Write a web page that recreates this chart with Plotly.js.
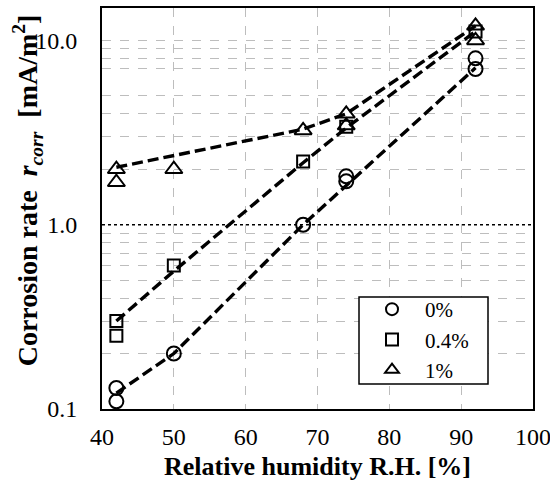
<!DOCTYPE html>
<html>
<head>
<meta charset="utf-8">
<script src="https://cdn.plot.ly/plotly-3.0.1.min.js"></script>
<style>html,body{margin:0;padding:0;background:#fff;}#chart{width:550px;height:482px;}</style>
</head>
<body>
<div id="chart"></div>
<script>
// Measured corrosion rates (markers)
const seriesNames = ['0%', '0.4%', '1%'];
const rh0 = [42, 42, 50, 68, 74, 74, 92, 92];
const rate0 = [0.11, 0.13, 0.2, 1.0, 1.72, 1.83, 7.0, 8.0];
const rh04 = [42, 42, 50, 68, 74, 92];
const rate04 = [0.25, 0.3, 0.6, 2.2, 3.4, 11.2];
const rh1 = [42, 42, 50, 68, 74, 74, 92, 92];
const rate1 = [2.0, 1.7, 2.0, 3.25, 4.0, 3.45, 12.0, 10.0];

// Trend lines
const trendRh0 = [42, 50, 68, 92];
const trend0 = [0.122, 0.2, 1.0, 7.1];
const trendRh04 = [42, 50, 68, 74, 92];
const trend04 = [0.3, 0.56, 2.17, 3.35, 11.2];
const trendRh1 = [42, 68, 74, 92];
const trend1 = [2.05, 3.3, 4.0, 12.0];

// Axis ticks / reference line
const xTickVals = [40, 50, 60, 70, 80, 90, 100];
const yTickVals = [0.1, 1, 10];
const yTickText = ['0.1', '1.0', '10.0'];
const yMinorGrid = [0.2, 0.3, 0.4, 0.5, 0.6, 0.7, 0.8, 0.9, 2, 3, 4, 5, 7, 8, 9, 10];
const refLineY = [1];
const yTitle = '<b>Corrosion rate&nbsp;&nbsp;<i>r<sub>corr</sub></i>&nbsp;&nbsp;[mA/m<sup>2</sup>]</b>';

const serif = '"Liberation Serif", "Times New Roman", Times, serif';
const symbols = ['circle-open', 'square-open', 'triangle-up-open'];
const sizes = [14, 12, 15];

const markerSets = [[rh0, rate0], [rh04, rate04], [rh1, rate1]];
const trendSets = [[trendRh0, trend0], [trendRh04, trend04], [trendRh1, trend1]];

const traces = [];
trendSets.forEach(([x, y]) => {
  traces.push({
    x: x, y: y, type: 'scatter', mode: 'lines', showlegend: false, hoverinfo: 'skip',
    line: {color: '#000', width: 3.4, dash: '11px,5px'}
  });
});
markerSets.forEach(([x, y], i) => {
  traces.push({
    x: x, y: y, type: 'scatter', mode: 'markers', name: seriesNames[i],
    marker: {symbol: symbols[i], size: sizes[i], color: '#000', line: {color: '#000', width: 2}}
  });
});

const layout = {
  width: 550, height: 482,
  margin: {l: 102, r: 17, t: 8, b: 73},
  paper_bgcolor: '#fff', plot_bgcolor: '#fff',
  font: {family: serif, color: '#000', size: 24},
  showlegend: true,
  legend: {
    x: 0.5963, y: 0.2993, xanchor: 'left', yanchor: 'top',
    borderwidth: 0, bgcolor: 'rgba(0,0,0,0)',
    font: {family: serif, size: 21, color: '#000'},
    itemsizing: 'constant', tracegroupgap: 0, itemwidth: 56
  },
  xaxis: {
    range: [40, 100], tickmode: 'array', tickvals: xTickVals,
    showgrid: true, gridcolor: '#bdbdbd', griddash: 'dash', gridwidth: 1,
    showline: true, linecolor: '#000', linewidth: 2, mirror: true,
    ticks: '', ticklabelstandoff: 5, ticklabeloverflow: 'allow', zeroline: false,
    tickfont: {family: serif, size: 24, color: '#000'},
    title: {text: '<b>Relative humidity R.H. [%]</b>', font: {family: serif, size: 26, color: '#000'}, standoff: 8}
  },
  yaxis: {
    type: 'log', range: [-1, Math.log10(15)],
    tickmode: 'array', tickvals: yTickVals, ticktext: yTickText,
    showgrid: false,
    minor: {tickmode: 'array', tickvals: yMinorGrid, showgrid: true, gridcolor: '#bdbdbd', griddash: 'dash', gridwidth: 1, ticks: ''},
    showline: true, linecolor: '#000', linewidth: 2, mirror: true,
    ticks: '', ticklabelstandoff: 18, zeroline: false,
    tickfont: {family: serif, size: 24, color: '#000'}
  },
  annotations: [{
    text: yTitle, textangle: -90, showarrow: false,
    xref: 'paper', yref: 'paper', x: -0.172, y: 0.545, xanchor: 'center', yanchor: 'middle',
    font: {family: serif, size: 28, color: '#000'}
  }],
  shapes: refLineY.map(v => ({
    type: 'line', xref: 'paper', x0: 0, x1: 1, yref: 'y', y0: v, y1: v,
    line: {color: '#000', width: 1.5, dash: 'dot'}, layer: 'below'
  })).concat([{
    type: 'rect', xref: 'paper', yref: 'paper', x0: 0.5963, x1: 0.8956, y0: 0.0623, y1: 0.2793,
    line: {color: '#000', width: 1.5}, fillcolor: '#fff', layer: 'above'
  }])
};

Plotly.newPlot('chart', traces, layout, {displayModeBar: false, staticPlot: true});
</script>
</body>
</html>
